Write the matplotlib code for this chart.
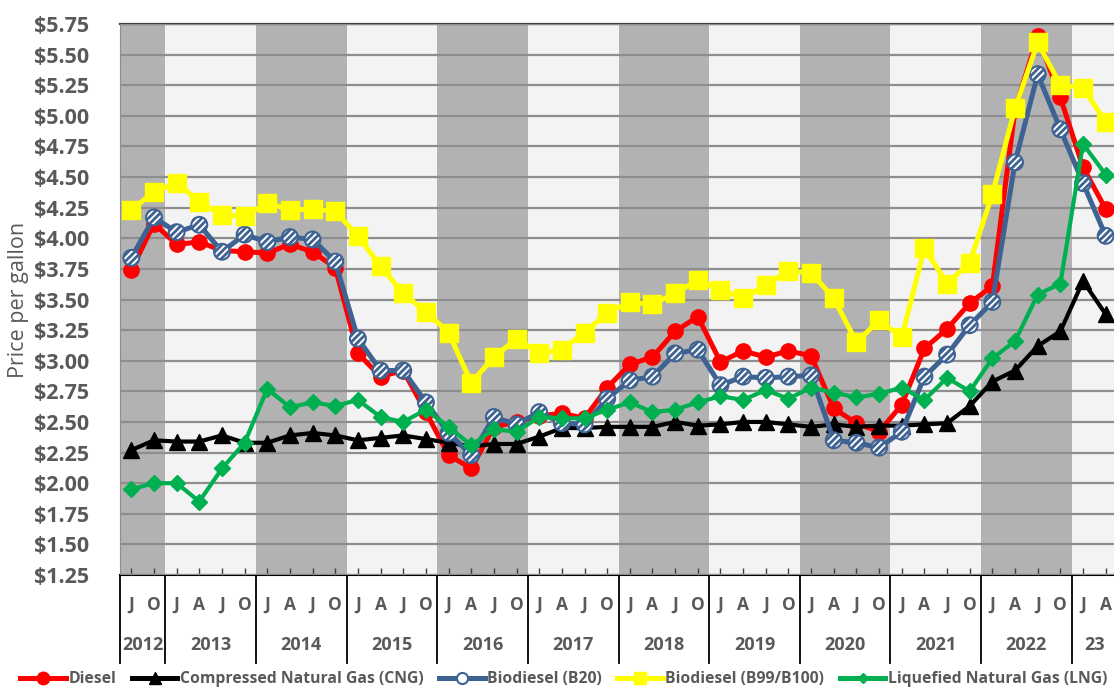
import matplotlib
matplotlib.use('Agg')
import matplotlib.pyplot as plt
import matplotlib.transforms as mtransforms
from matplotlib.lines import Line2D
import numpy as np

# quarterly prices, Jul 2012 .. Apr 2023
diesel = [3.74, 4.12, 3.95, 3.97, 3.90, 3.89, 3.88, 3.95, 3.89, 3.76,
          3.06, 2.87, 2.92, 2.58, 2.23, 2.12, 2.46, 2.50, 2.55, 2.57,
          2.53, 2.78, 2.97, 3.03, 3.24, 3.36, 2.99, 3.08, 3.03, 3.08,
          3.04, 2.61, 2.49, 2.42, 2.64, 3.10, 3.26, 3.47, 3.61, 5.05,
          5.65, 5.15, 4.58, 4.24]
cng = [2.27, 2.35, 2.34, 2.34, 2.39, 2.33, 2.33, 2.39, 2.41, 2.39,
       2.35, 2.37, 2.39, 2.36, 2.33, 2.30, 2.32, 2.32, 2.38, 2.45,
       2.45, 2.46, 2.46, 2.46, 2.50, 2.47, 2.48, 2.50, 2.50, 2.48,
       2.46, 2.48, 2.46, 2.47, 2.47, 2.48, 2.49, 2.63, 2.83, 2.92,
       3.12, 3.24, 3.65, 3.38]
b20 = [3.84, 4.17, 4.05, 4.11, 3.89, 4.03, 3.97, 4.01, 3.99, 3.81,
       3.18, 2.92, 2.92, 2.66, 2.41, 2.23, 2.54, 2.48, 2.58, 2.49,
       2.48, 2.69, 2.84, 2.87, 3.06, 3.09, 2.80, 2.87, 2.86, 2.87,
       2.88, 2.35, 2.33, 2.29, 2.42, 2.87, 3.05, 3.29, 3.48, 4.62,
       5.34, 4.89, 4.45, 4.02]
b100 = [4.23, 4.38, 4.45, 4.30, 4.19, 4.18, 4.29, 4.23, 4.24, 4.22,
        4.02, 3.77, 3.55, 3.40, 3.23, 2.82, 3.03, 3.18, 3.06, 3.09,
        3.23, 3.39, 3.48, 3.46, 3.55, 3.66, 3.58, 3.51, 3.62, 3.73,
        3.72, 3.51, 3.15, 3.33, 3.19, 3.92, 3.63, 3.80, 4.36, 5.06,
        5.60, 5.25, 5.23, 4.95]
lng = [1.95, 2.00, 2.00, 1.85, 2.12, 2.33, 2.77, 2.62, 2.66, 2.63,
       2.68, 2.54, 2.50, 2.60, 2.46, 2.31, 2.44, 2.42, 2.54, 2.53,
       2.53, 2.60, 2.66, 2.58, 2.60, 2.66, 2.71, 2.68, 2.76, 2.69,
       2.78, 2.74, 2.70, 2.73, 2.78, 2.68, 2.86, 2.75, 3.02, 3.16,
       3.54, 3.63, 4.77, 4.52]

quarter_labels = ['J', 'O'] + ['J', 'A', 'J', 'O'] * 10 + ['J', 'A']
year_labels = ['2012', '2013', '2014', '2015', '2016', '2017', '2018',
               '2019', '2020', '2021', '2022', '23']
year_counts = [2, 4, 4, 4, 4, 4, 4, 4, 4, 4, 4, 2]

TXT = '#595959'
BLUE = '#3e6393'
plt.rcParams['font.family'] = ['Open Sans', 'DejaVu Sans']
plt.rcParams['hatch.color'] = BLUE
plt.rcParams['hatch.linewidth'] = 2.0

W, H = 1114, 689
fig = plt.figure(figsize=(W / 100, H / 100), dpi=100)
left, right, top, bottom = 120, 1117, 24, 575
ax = fig.add_axes([left / W, 1 - bottom / H, (right - left) / W, (bottom - top) / H])

x = np.arange(len(diesel))

# alternating year bands
start = 0
for k, n in enumerate(year_counts):
    col = '#b2b2b2' if k % 2 == 0 else '#f3f3f3'
    ax.axvspan(start - 0.5, start + n - 0.5, color=col, lw=0, zorder=0)
    start += n

ax.set_xlim(-0.5, len(x) - 0.5)
ax.set_ylim(1.25, 5.75)
yt = np.arange(1.25, 5.76, 0.25)
ax.set_yticks(yt)
ax.set_yticklabels(['${:.2f}'.format(v) for v in yt], color=TXT,
                   fontsize=15.5, fontweight='bold')
ax.grid(axis='y', color='#8e8e8e', lw=1.6, zorder=1)
ax.set_axisbelow(False)

ax.plot(x, diesel, color='#ff0000', lw=3.6, marker='o', ms=11, zorder=3)
ax.plot(x, cng, color='black', lw=3.0, marker='^', ms=12, zorder=4)
ax.plot(x, b20, color=BLUE, lw=3.6, zorder=5)
ax.scatter(x, b20, s=130, facecolor='white', edgecolor=BLUE,
           linewidths=1.5, hatch='/////', zorder=5.5)
ax.plot(x, b100, color='#ffff00', lw=3.6, marker='s', ms=12.5, zorder=6)
ax.plot(x, lng, color='#00b050', lw=3.0, marker='D', ms=8.5, zorder=7)

fig.text(19 / W, 1 - 300 / H, 'Price per gallon', rotation=90, ha='center',
         va='center', color=TXT, fontsize=15.5)

ax.set_xticks(x)
ax.set_xticklabels([])
ax.tick_params(axis='x', direction='in', length=5, color='#404040', width=1)
ax.tick_params(axis='y', length=0, pad=22)
ax.spines['right'].set_visible(False)
ax.spines['top'].set_color('#404040')
ax.spines['top'].set_linewidth(1.6)
ax.spines['left'].set_color('#8e8e8e')
ax.spines['bottom'].set_color('black')
ax.spines['bottom'].set_linewidth(1.5)

# two-level category labels below the axis
tr = mtransforms.blended_transform_factory(ax.transData, ax.transAxes)
hb = bottom - top
for i, q in enumerate(quarter_labels):
    ax.text(i, -(605 - bottom) / hb, q, transform=tr, ha='center', va='center',
            color=TXT, fontsize=12.5, fontweight='bold')
start = 0
for lab, n in zip(year_labels, year_counts):
    ax.plot([start - 0.5, start - 0.5], [0, -(663 - bottom) / hb], transform=tr,
            color='black', lw=1.3, clip_on=False)
    ax.text(start + (n - 1) / 2, -(645 - bottom) / hb, lab, transform=tr,
            ha='center', va='center', color=TXT, fontsize=13, fontweight='bold')
    start += n

handles = [
    Line2D([], [], color='#ff0000', lw=3.6, marker='o', ms=9),
    Line2D([], [], color='black', lw=3.6, marker='^', ms=9),
    Line2D([], [], color=BLUE, lw=3.6, marker='o', ms=8, mfc='white',
           mec=BLUE, mew=1.5),
    Line2D([], [], color='#ffff00', lw=3.6, marker='s', ms=9),
    Line2D([], [], color='#00b050', lw=3.6, marker='D', ms=5),
]
names = ['Diesel', 'Compressed Natural Gas (CNG)', 'Biodiesel (B20)',
         'Biodiesel (B99/B100)', 'Liquefied Natural Gas (LNG)']
leg = fig.legend(handles, names, loc='center', bbox_to_anchor=(0.506, 1 - 679 / H),
                 ncol=5, frameon=False, handlelength=2.9, handletextpad=0.15,
                 columnspacing=1.0, prop={'size': 11.3, 'weight': 'bold'})
for t in leg.get_texts():
    t.set_color(TXT)

fig.savefig('out.png', dpi=100)
